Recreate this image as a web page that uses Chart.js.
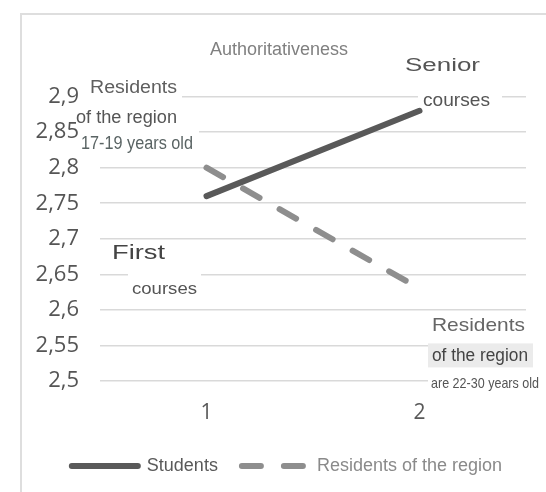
<!DOCTYPE html>
<html>
<head>
<meta charset="utf-8">
<script src="https://cdn.jsdelivr.net/npm/chart.js@4/dist/chart.umd.min.js"></script>
<style>
  html, body { margin: 0; padding: 0; background: #ffffff; }
  #wrap { position: relative; width: 546px; height: 492px; overflow: hidden; }
  #frame { position: absolute; left: 20px; top: 13px; width: 600px; height: 600px;
           border-left: 2px solid #dedede; border-top: 2px solid #dedede; }
  #chart { position: absolute; left: 0; top: 0; }
</style>
</head>
<body>
<div id="wrap">
  <div id="frame"></div>
  <canvas id="chart" width="546" height="492"></canvas>
</div>
<script>
// Categories (survey stage) and mean authoritativeness scores
const categories = ['1', '2'];
const studentsValues = [2.76, 2.88];
const residentsValues = [2.80, 2.63];
const seriesNames = ['Students', 'Residents of the region'];
const yTickValues = [2.5, 2.55, 2.6, 2.65, 2.7, 2.75, 2.8, 2.85, 2.9];
const yTickLabels = ['2,5', '2,55', '2,6', '2,65', '2,7', '2,75', '2,8', '2,85', '2,9'];
const chartTitle = 'Authoritativeness';

// Captions placed in chart space: category index + pixel shift, value on y axis.
// Each sits on a small backing box (padL/padR/padY) that hides the grid behind it.
const captions = [
  { text: 'Residents',           cat: 0, dx: -116.5, v: 2.914, size: 18, w: 87,  color: '#5f5f5f', bg: '#ffffff', padL: 2, padR: 5, padY: 12 },
  { text: 'of the region',       cat: 0, dx: -130.5, v: 2.871, size: 18, w: 101, color: '#555555', bg: '#ffffff', padL: 0, padR: 2, padY: 8 },
  { text: '17-19 years old',     cat: 0, dx: -125.5, v: 2.834, size: 18, w: 112, color: '#5a6464', bg: '#ffffff', padL: 0, padR: 6, padY: 13 },
  { text: 'Senior',              cat: 1, dx: -14.5,  v: 2.944, size: 18, w: 75,  color: '#555555', bg: '#ffffff', padL: 3, padR: 3, padY: 11 },
  { text: 'courses',             cat: 1, dx: 3.5,    v: 2.896, size: 19, w: 67,  color: '#555555', bg: '#ffffff', padL: 5, padR: 12, padY: 12 },
  { text: 'First',               cat: 0, dx: -94.5,  v: 2.681, size: 20, w: 53,  color: '#444444', bg: '#ffffff', padL: 3, padR: 3, padY: 12 },
  { text: 'courses',             cat: 0, dx: -74.5,  v: 2.631, size: 17, w: 65,  color: '#555555', bg: '#ffffff', padL: 4, padR: 4, padY: 15 },
  { text: 'Residents',           cat: 1, dx: 12.5,   v: 2.579, size: 19, w: 93,  color: '#666666', bg: '#ffffff', padL: 3, padR: 3, padY: 11 },
  { text: 'of the region',       cat: 1, dx: 12.5,   v: 2.536, size: 18, w: 96,  color: '#444444', bg: '#ebebeb', padL: 4, padR: 5, padY: 12 },
  { text: 'are 22-30 years old', cat: 1, dx: 11.5,   v: 2.497, size: 15, w: 108, color: '#555555', bg: '#ffffff', padL: 3, padR: 3, padY: 9 }
];

const captionPlugin = {
  id: 'captions',
  beforeDatasetsDraw(chart) {
    const { ctx, scales: { x, y } } = chart;
    ctx.save();
    captions.forEach(c => {
      const left = x.getPixelForValue(c.cat) + c.dx;
      const cy = y.getPixelForValue(c.v);
      ctx.font = c.size + 'px "Liberation Sans", Arial, sans-serif';
      const natural = ctx.measureText(c.text).width;
      const sx = c.w / natural;
      ctx.fillStyle = c.bg;
      ctx.fillRect(left - c.padL, cy - c.padY, c.w + c.padL + c.padR, 2 * c.padY);
      ctx.save();
      ctx.translate(left, cy);
      ctx.scale(sx, 1);
      ctx.fillStyle = c.color;
      ctx.textAlign = 'left';
      ctx.textBaseline = 'middle';
      ctx.fillText(c.text, 0, 1);
      ctx.restore();
    });
    ctx.restore();
  }
};

const lineColors = ['#595959', '#8e8e8e'];
const dashes = [[], [19, 23]];

new Chart(document.getElementById('chart'), {
  type: 'line',
  data: {
    labels: categories,
    datasets: [
      {
        label: seriesNames[0],
        data: studentsValues,
        borderColor: lineColors[0],
        backgroundColor: lineColors[0],
        borderWidth: 6,
        borderCapStyle: 'round',
        pointRadius: 0,
        fill: false
      },
      {
        label: seriesNames[1],
        data: residentsValues,
        borderColor: lineColors[1],
        backgroundColor: lineColors[1],
        borderWidth: 6,
        borderDash: dashes[1],
        borderCapStyle: 'round',
        pointRadius: 0,
        fill: false
      }
    ]
  },
  options: {
    responsive: false,
    animation: false,
    layout: { padding: { left: 32, right: 20, top: 0, bottom: 7 } },
    plugins: {
      tooltip: { enabled: false },
      title: {
        display: true,
        text: chartTitle,
        color: '#808080',
        font: { family: '"Liberation Sans", Arial, sans-serif', size: 18, weight: 'normal' },
        padding: { top: 39, bottom: 36 }
      },
      legend: {
        position: 'bottom',
        align: 'end',
        labels: {
          usePointStyle: true,
          pointStyleWidth: 66,
          padding: 24,
          font: { family: '"Liberation Sans", Arial, sans-serif', size: 18 },
          generateLabels(chart) {
            return chart.data.datasets.map((ds, i) => ({
              text: ds.label,
              datasetIndex: i,
              strokeStyle: ds.borderColor,
              fillStyle: ds.borderColor,
              lineWidth: 6,
              lineDash: ds.borderDash || [],
              lineCap: 'round',
              pointStyle: 'line',
              fontColor: i === 0 ? '#595959' : '#8a8a8a',
              hidden: false
            }));
          }
        }
      }
    },
    scales: {
      x: {
        offset: true,
        afterFit(scale) { scale.height = 52; },
        grid: { display: false, drawTicks: false },
        border: { display: false },
        ticks: {
          padding: 19,
          color: '#595959',
          font: { family: '"Open Sans", sans-serif', size: 21 }
        }
      },
      y: {
        min: 2.5,
        max: 2.9,
        afterFit(scale) { scale.width = 68; },
        afterBuildTicks(scale) { scale.ticks = yTickValues.map(v => ({ value: v })); },
        grid: { color: '#d9d9d9', lineWidth: 1.5, drawTicks: false },
        border: { display: false },
        ticks: {
          autoSkip: false,
          padding: 21,
          color: '#555555',
          font: { family: '"Open Sans", sans-serif', size: 22 },
          callback(value, index) { return yTickLabels[index]; }
        }
      }
    }
  },
  plugins: [captionPlugin]
});
</script>
</body>
</html>
